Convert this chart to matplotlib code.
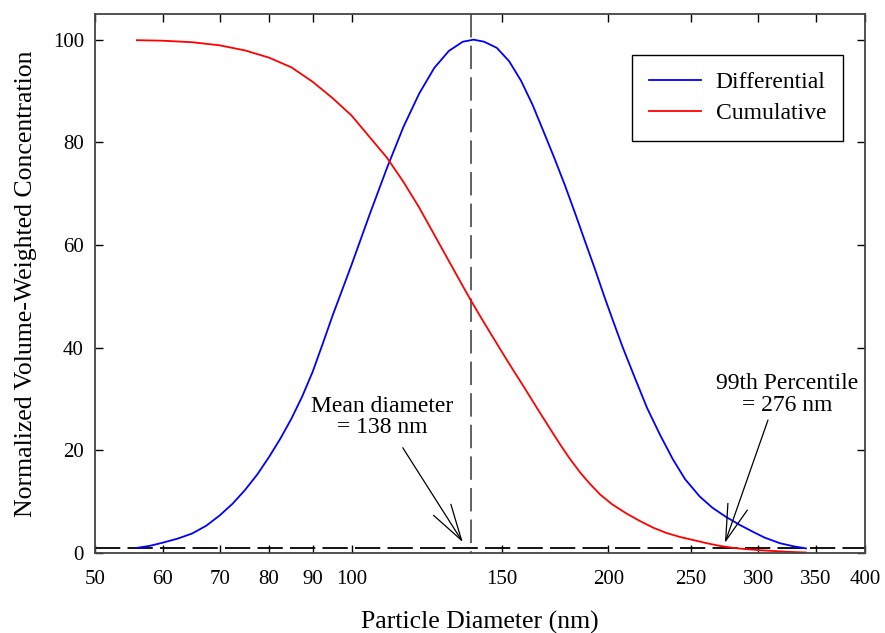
import matplotlib
matplotlib.use("Agg")
import matplotlib.pyplot as plt
from matplotlib.ticker import FixedLocator, FixedFormatter, NullLocator

plt.rcParams['font.family'] = ['Liberation Serif', 'DejaVu Serif']

# Differential volume-weighted distribution (normalized to peak = 100)
diff_d = [56, 58, 60, 62.5, 65, 67.5, 70, 72.5, 75, 77.5, 80, 82.5, 85,
          87.5, 90, 92.5, 95, 97.5, 100, 105, 110, 115, 120, 125, 130,
          135, 139, 143, 148, 153, 158, 163, 168, 173, 178, 183, 188,
          193, 198, 203, 208, 215, 222, 230, 238, 246, 256, 265, 275,
          285, 295, 305, 318, 330, 341]
diff_v = [1.0, 1.4, 2.0, 2.8, 3.8, 5.3, 7.3, 9.6, 12.3, 15.3, 18.7, 22.3,
          26.2, 30.5, 35.3, 40.8, 46.3, 51.3, 56.2, 66.0, 75.0, 83.0, 89.5,
          94.5, 97.8, 99.6, 100.0, 99.6, 98.4, 95.8, 92.0, 87.3, 82.0,
          76.8, 71.5, 66.0, 60.5, 55.2, 49.8, 44.8, 40.0, 34.0, 28.3,
          23.0, 18.3, 14.4, 11.0, 8.8, 7.0, 5.5, 4.2, 3.0, 1.9, 1.3, 0.9]

# Cumulative distribution (percent of volume above each diameter)
cum_d = [56, 60, 65, 70, 75, 80, 85, 90, 95, 100, 105, 110, 115, 120,
         125, 130, 135, 138, 142, 146, 150, 155, 160, 165, 170, 175.5,
         180, 185.3, 190, 195.6, 202, 210, 218, 226, 234, 243, 252, 261,
         270, 280, 290, 301, 315, 328, 341]
cum_v = [99.9, 99.8, 99.5, 98.9, 97.9, 96.5, 94.6, 91.8, 88.6, 85.2, 81.0,
         77.0, 72.3, 67.3, 62.0, 56.9, 52.0, 49.2, 45.7, 42.4, 39.2, 35.4,
         31.8, 28.2, 24.8, 21.2, 18.5, 15.7, 13.6, 11.4, 9.5, 7.7, 6.2,
         4.9, 3.9, 3.1, 2.5, 1.9, 1.4, 1.0, 0.75, 0.55, 0.35, 0.2, 0.1]

mean_diameter = 138
p99_diameter = 276
threshold = 1

x_ticks = [50, 60, 70, 80, 90, 100, 150, 200, 250, 300, 350, 400]
y_ticks = [0, 20, 40, 60, 80, 100]
y_max = 105

fig = plt.figure(figsize=(8.85, 6.33), dpi=100)
ax = fig.add_axes([95 / 885, 1 - 553 / 633, 770 / 885, 539 / 633])

ax.set_xscale('log')
ax.set_xlim(50, 400)
ax.set_ylim(0, y_max)

# Reference lines: mean diameter (vertical) and 1% level (horizontal)
vl, = ax.plot([mean_diameter, mean_diameter], [y_max, 0],
              color='#555555', lw=1.3, zorder=1)
vl.set_dashes((13, 4.5))
hl = ax.axhline(threshold, color='black', lw=1.3, zorder=1)
hl.set_dashes((14, 4))

ax.plot(diff_d, diff_v, color='#0000ff', lw=1.3, label='Differential',
        zorder=2)
ax.plot(cum_d, cum_v, color='#ff0000', lw=1.3, label='Cumulative',
        zorder=2)

ax.xaxis.set_major_locator(FixedLocator(x_ticks))
ax.xaxis.set_major_formatter(FixedFormatter([str(t) for t in x_ticks]))
ax.xaxis.set_minor_locator(NullLocator())
ax.set_yticks(y_ticks)
ax.tick_params(axis='both', which='major', direction='in', length=6,
               width=1, top=True, right=True, labelsize=15,
               color='black')
ax.tick_params(axis='x', pad=12)
ax.tick_params(axis='y', pad=8)

for sp in ax.spines.values():
    sp.set_color('#444444')
    sp.set_linewidth(1.3)

ax.set_xlabel('Particle Diameter (nm)', fontsize=18.5, labelpad=16)
ax.set_ylabel('Normalized Volume-Weighted Concentration', fontsize=18.5,
              labelpad=11)

leg = ax.legend(loc='upper right', bbox_to_anchor=(0.971, 0.924),
                fontsize=17, frameon=True, fancybox=False, framealpha=1,
                edgecolor='black', handlelength=2.2, handletextpad=0.64,
                borderpad=0.7, labelspacing=0.4, borderaxespad=0)
leg.get_frame().set_linewidth(1.0)

arrow_kw = dict(arrowstyle='->,head_length=2.6,head_width=0.74',
                color='black', lw=0.9, shrinkA=0, shrinkB=0)

ax.text(108.6, 26.5, 'Mean diameter\n= 138 nm', ha='center', va='center',
        fontsize=17, linespacing=1.05)
ax.annotate('', xy=(135, 2.1), xytext=(114.8, 20.5), arrowprops=arrow_kw)

ax.text(324, 30.8, '99th Percentile\n= 276 nm', ha='center', va='center',
        fontsize=17, linespacing=1.05)
ax.annotate('', xy=(274, 1.95), xytext=(307.8, 25.9), arrowprops=arrow_kw)

fig.savefig('out.png', dpi=100)
